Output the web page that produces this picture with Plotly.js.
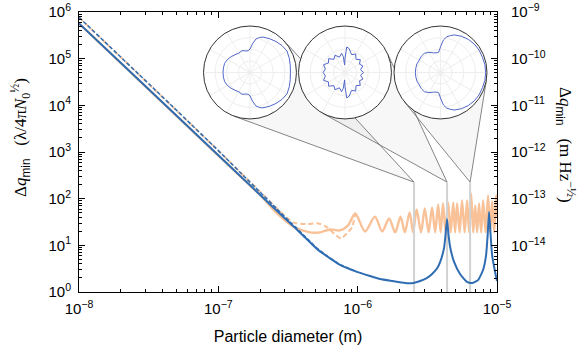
<!DOCTYPE html>
<html><head><meta charset="utf-8">
<script src="https://cdn.plot.ly/plotly-3.0.1.min.js"></script>
<style>html,body{margin:0;padding:0;background:#fff}#chart{width:579px;height:361px}</style>
</head><body><div id="chart"></div>
<script>
// ---------------- data ----------------
// Blue: Δq_min in units of λ/4πN0^½ (left axis)
const blueSolidD = [1e-8, 2e-8, 5e-8, 1e-7, 2e-7, 3e-7, 4e-7, 5.12e-7, 6.2e-7, 7.48e-7, 9.9e-7, 1.23e-6, 1.45e-6, 1.77e-6, 2.19e-6, 2.51e-6, 2.81e-6, 3.15e-6, 3.42e-6, 3.73e-6, 3.91e-6, 4.17e-6, 4.27e-6, 4.38e-6, 4.49e-6, 4.61e-6, 4.92e-6, 5.43e-6, 6.10e-6, 6.62e-6, 7.31e-6, 7.94e-6, 8.35e-6, 8.57e-6, 8.77e-6, 9.0e-6, 9.22e-6, 9.69e-6, 1e-5];
const blueSolidV = [5.7e5, 8.1e4, 6050, 851, 120, 38, 16.9, 8.3, 5.5, 3.8, 2.7, 2.2, 1.9, 1.72, 1.56, 1.56, 1.72, 2.0, 2.43, 3.27, 4.4, 8.8, 16.6, 36.6, 16.6, 9.2, 4.4, 2.43, 1.64, 1.56, 1.8, 2.96, 6.2, 16.6, 51.6, 16.6, 6.2, 2.7, 1.72];
const blueDashD = [1e-8, 2e-8, 5e-8, 1e-7, 2e-7, 3e-7, 4e-7, 5.12e-7, 6.2e-7, 7.48e-7, 9.9e-7];
const blueDashV = [7.7e5, 1.08e5, 7900, 1070, 134, 41, 17.8, 8.6, 5.6, 3.85, 2.7];
// Orange: Δq_min in m Hz^-½ (right axis)
const orangeSolidD = [1e-8, 1e-7, 2e-7, 2.64e-7, 3.43e-7, 4.55e-7, 5.37e-7, 6.34e-7, 7.48e-7, 8.54e-7, 9.6e-7, 1.13e-6, 1.33e-6, 1.50e-6, 1.68e-6, 1.86e-6, 2.03e-6, 2.18e-6, 2.36e-6, 2.5e-6, 2.65e-6, 2.85e-6, 3.03e-6, 3.23e-6, 3.42e-6, 3.6e-6, 3.78e-6, 3.94e-6, 4.10e-6, 4.28e-6, 4.46e-6, 4.65e-6, 4.85e-6, 5.0e-6, 5.17e-6, 5.39e-6, 5.61e-6, 5.86e-6, 6.10e-6, 6.31e-6, 6.52e-6, 6.75e-6, 6.97e-6, 7.2e-6, 7.43e-6, 7.7e-6, 7.95e-6, 8.28e-6, 8.63e-6, 8.93e-6, 9.23e-6, 9.55e-6, 9.86e-6, 1e-5];
const orangeSolidV = [5.7e-10, 8.5e-13, 1.2e-13, 4.9e-14, 2.6e-14, 1.93e-14, 1.93e-14, 2.23e-14, 2.13e-14, 2.72e-14, 4.9e-14, 2.02e-14, 4.2e-14, 2.02e-14, 3.84e-14, 1.93e-14, 4.2e-14, 1.93e-14, 5.16e-14, 1.93e-14, 6.0e-14, 1.93e-14, 6.29e-14, 1.93e-14, 6.61e-14, 1.93e-14, 7.66e-14, 1.93e-14, 8.05e-14, 1.93e-14, 8.45e-14, 1.93e-14, 8.45e-14, 1.93e-14, 8.05e-14, 1.93e-14, 9.33e-14, 1.93e-14, 9.33e-14, 1.93e-14, 1.32e-13, 1.93e-14, 7.29e-14, 1.93e-14, 8.05e-14, 1.93e-14, 9.33e-14, 1.93e-14, 1.19e-13, 1.93e-14, 8.9e-14, 1.93e-14, 1.19e-13, 4e-14];
const orangeDashD = [1e-8, 1e-7, 2e-7, 2.64e-7, 3.43e-7, 4.3e-7, 5.2e-7, 6.03e-7, 7.0e-7, 7.6e-7, 8.5e-7, 9.12e-7, 9.6e-7];
const orangeDashV = [7.7e-10, 1.08e-12, 1.42e-13, 6.3e-14, 3.15e-14, 2.9e-14, 3.0e-14, 2.47e-14, 1.66e-14, 1.43e-14, 1.93e-14, 2.47e-14, 4.9e-14];
// Particle diameters shown in the three insets, and top of marker lines (right-axis units)
const insetD = [2.54e-6, 4.38e-6, 6.41e-6];
const insetTopV = 2.26e-13;
// Angular scattering patterns in the insets (half pattern, 0..180 deg; mirrored below)
const inset1Theta = [0, 10, 20, 30, 40, 50, 60, 70, 75, 80, 85, 90, 95, 100, 110, 120, 130, 140, 150, 160, 170, 180];
const inset1R     = [0.87, 0.88, 0.90, 0.92, 0.90, 0.87, 0.84, 0.81, 0.78, 0.73, 0.62, 0.50, 0.47, 0.47, 0.50, 0.48, 0.50, 0.53, 0.56, 0.58, 0.58, 0.58];
const inset2Theta = [0, 10, 20, 30, 40, 50, 60, 70, 80, 86, 90, 93, 96, 100, 110, 120, 130, 140, 150, 160, 170, 180];
const inset2R     = [0.40, 0.34, 0.41, 0.36, 0.43, 0.37, 0.46, 0.41, 0.52, 0.55, 0.30, 0.16, 0.34, 0.42, 0.35, 0.43, 0.37, 0.46, 0.41, 0.49, 0.43, 0.47];
const inset3Theta = [0, 10, 20, 30, 40, 50, 60, 70, 75, 80, 85, 90, 95, 100, 110, 120, 130, 140, 150, 160, 170, 180];
const inset3R     = [0.97, 0.97, 0.96, 0.96, 0.95, 0.93, 0.90, 0.86, 0.82, 0.78, 0.70, 0.55, 0.44, 0.43, 0.45, 0.50, 0.54, 0.54, 0.53, 0.54, 0.54, 0.54];
// Tick labels
const xTickVals = [1e-8, 1e-7, 1e-6, 1e-5];
const xTickText = ['10<sup>−8</sup>', '10<sup>−7</sup>', '10<sup>−6</sup>', '10<sup>−5</sup>'];
const leftTickVals = [1, 10, 100, 1e3, 1e4, 1e5, 1e6];
const leftTickText = ['10<sup>0</sup>', '10<sup>1</sup>', '10<sup>2</sup>', '10<sup>3</sup>', '10<sup>4</sup>', '10<sup>5</sup>', '10<sup>6</sup>'];
const rightTickVals = [1e-14, 1e-13, 1e-12, 1e-11, 1e-10, 1e-9];
const rightTickText = ['10<sup>−14</sup>', '10<sup>−13</sup>', '10<sup>−12</sup>', '10<sup>−11</sup>', '10<sup>−10</sup>', '10<sup>−9</sup>'];

// ---------------- geometry ----------------
const W = 579, H = 361;
const M = {l: 79, r: 82, t: 12, b: 69};
const PW = W - M.l - M.r, PH = H - M.t - M.b;
const XR = [-8, -5], YR_RIGHT = [-15, -9];
const BLUE = '#2f6db3', ORANGE = '#f9c197', PBLUE = '#5266c8';
const tickFont = {family: 'Liberation Sans, Arial, sans-serif', size: 15, color: '#000'};

function mirror(th, r) {
  const t = th.slice(), rr = r.slice();
  for (let i = th.length - 2; i >= 0; i--) { t.push(360 - th[i]); rr.push(r[i]); }
  return [t, rr];
}
const polarDomains = [
  {x: [0.2978, 0.5203], y: [0.618, 0.950]},
  {x: [0.5251, 0.7476], y: [0.618, 0.950]},
  {x: [0.7536, 0.9761], y: [0.618, 0.950]}
];

const traces = [];
traces.push({x: orangeSolidD, y: orangeSolidV, yaxis: 'y', mode: 'lines', line: {color: ORANGE, width: 2.4, shape: 'spline', smoothing: 0.8}, hoverinfo: 'skip'});
traces.push({x: orangeDashD, y: orangeDashV, yaxis: 'y', mode: 'lines', line: {color: ORANGE, width: 2, dash: '5px,3px', shape: 'spline', smoothing: 0.6}, hoverinfo: 'skip'});
insetD.forEach(d => traces.push({x: [d, d], y: [1e-15, insetTopV], yaxis: 'y', mode: 'lines', line: {color: '#d2d2d2', width: 2}, hoverinfo: 'skip'}));
traces.push({x: blueDashD, y: blueDashV, yaxis: 'y2', mode: 'lines', line: {color: BLUE, width: 1.5, dash: '4px,2px'}, hoverinfo: 'skip'});
traces.push({x: blueSolidD, y: blueSolidV, yaxis: 'y2', mode: 'lines', line: {color: BLUE, width: 2, shape: 'spline', smoothing: 0.5}, hoverinfo: 'skip'});
const pats = [mirror(inset1Theta, inset1R), mirror(inset2Theta, inset2R), mirror(inset3Theta, inset3R)];
pats.forEach((p, i) => traces.push({type: 'scatterpolar', theta: p[0], r: p[1], subplot: i ? 'polar' + (i + 1) : 'polar', mode: 'lines', line: {color: PBLUE, width: 1}, hoverinfo: 'skip'}));

// cones from insets to marker lines
function xPx(d) { return M.l + PW * (Math.log10(d) - XR[0]) / (XR[1] - XR[0]); }
function yPx(v) { return M.t + PH * (1 - (Math.log10(v) - YR_RIGHT[0]) / (YR_RIGHT[1] - YR_RIGHT[0])); }
function px2paper(p) { return [(p[0] - M.l) / PW, 1 - (p[1] - M.t) / PH]; }
const shapes = [];
insetD.forEach((d, i) => {
  const dom = polarDomains[i];
  const C = [M.l + PW * (dom.x[0] + dom.x[1]) / 2, M.t + PH * (1 - (dom.y[0] + dom.y[1]) / 2)];
  const R = PW * (dom.x[1] - dom.x[0]) / 2;
  const P = [xPx(d), yPx(insetTopV)];
  const dx = P[0] - C[0], dy = P[1] - C[1], L = Math.hypot(dx, dy);
  const phi = Math.atan2(dy, dx), a = Math.acos(R / L);
  const T1 = [C[0] + R * Math.cos(phi + a), C[1] + R * Math.sin(phi + a)];
  const T2 = [C[0] + R * Math.cos(phi - a), C[1] + R * Math.sin(phi - a)];
  const pp = [P, T1, C, T2].map(px2paper);
  shapes.push({type: 'path', xref: 'paper', yref: 'paper', layer: 'below',
    path: `M ${pp[0][0]} ${pp[0][1]} L ${pp[1][0]} ${pp[1][1]} L ${pp[2][0]} ${pp[2][1]} L ${pp[3][0]} ${pp[3][1]} Z`,
    fillcolor: 'rgba(0,0,0,0.03)', line: {width: 0}});
  [pp[1], pp[3]].forEach(t => shapes.push({type: 'line', xref: 'paper', yref: 'paper', layer: 'below',
    x0: pp[0][0], y0: pp[0][1], x1: t[0], y1: t[1], line: {color: '#666', width: 0.8}}));
});

const polarCommon = {
  bgcolor: '#fff',
  angularaxis: {showticklabels: false, ticks: '', showline: true, linecolor: '#333', linewidth: 1, gridcolor: '#eeeeee', dtick: 30},
  radialaxis: {range: [0, 1], showticklabels: false, ticks: '', showline: false, gridcolor: '#eeeeee', dtick: 0.25}
};
const minorT = {ticks: 'inside', ticklen: 3, tickcolor: '#000', dtick: 'D1', showgrid: false};
const layout = {
  width: W, height: H, margin: M, showlegend: false, hovermode: false,
  paper_bgcolor: '#fff', plot_bgcolor: '#fff',
  xaxis: {type: 'log', range: XR, showline: true, linecolor: '#000', linewidth: 1, mirror: 'ticks', ticks: 'inside', ticklen: 6, tickcolor: '#000',
    tickvals: xTickVals, ticktext: xTickText, tickfont: tickFont, minor: minorT, showgrid: false, zeroline: false, ticklabelstandoff: 3,
    title: {text: 'Particle diameter (m)', font: {family: 'Liberation Sans, Arial, sans-serif', size: 16, color: '#000'}, standoff: 14}},
  yaxis: {type: 'log', range: [-14.99, -9], side: 'right', showline: true, linecolor: '#000', linewidth: 1, ticks: 'inside', ticklen: 6, tickcolor: '#000',
    tickvals: rightTickVals, ticktext: rightTickText, tickfont: tickFont, minor: minorT, showgrid: false, zeroline: false, ticklabelstandoff: 10},
  yaxis2: {type: 'log', range: [0, 6], overlaying: 'y', side: 'left', showline: true, linecolor: '#000', linewidth: 1, ticks: 'inside', ticklen: 6, tickcolor: '#000',
    tickvals: leftTickVals, ticktext: leftTickText, tickfont: tickFont, minor: minorT, showgrid: false, zeroline: false, ticklabelstandoff: 4},
  polar: Object.assign({domain: polarDomains[0]}, polarCommon),
  polar2: Object.assign({domain: polarDomains[1]}, polarCommon),
  polar3: Object.assign({domain: polarDomains[2]}, polarCommon),
  shapes: shapes,
  annotations: [
    {xref: 'paper', yref: 'paper', x: -0.141, y: 0.55, xanchor: 'center', yanchor: 'middle', textangle: -90, showarrow: false,
     text: 'Δ<i>q</i><sub><span style="font-family:Liberation Sans">min</span></sub>\u00a0\u00a0\u00a0(λ/4π<i>N</i><sub>0</sub><sup>½</sup>)',
     font: {family: 'Liberation Serif, Times New Roman, serif', size: 17, color: '#000'}},
    {xref: 'paper', yref: 'paper', x: 1.165, y: 0.525, xanchor: 'center', yanchor: 'middle', textangle: 90, showarrow: false,
     text: 'Δ<i>q</i><sub><span style="font-family:Liberation Sans">min</span></sub>\u00a0\u00a0\u00a0(m Hz<sup>−½</sup>)',
     font: {family: 'Liberation Serif, Times New Roman, serif', size: 17, color: '#000'}}
  ]
};
Plotly.newPlot('chart', traces, layout, {staticPlot: true, displayModeBar: false});
</script></body></html>
